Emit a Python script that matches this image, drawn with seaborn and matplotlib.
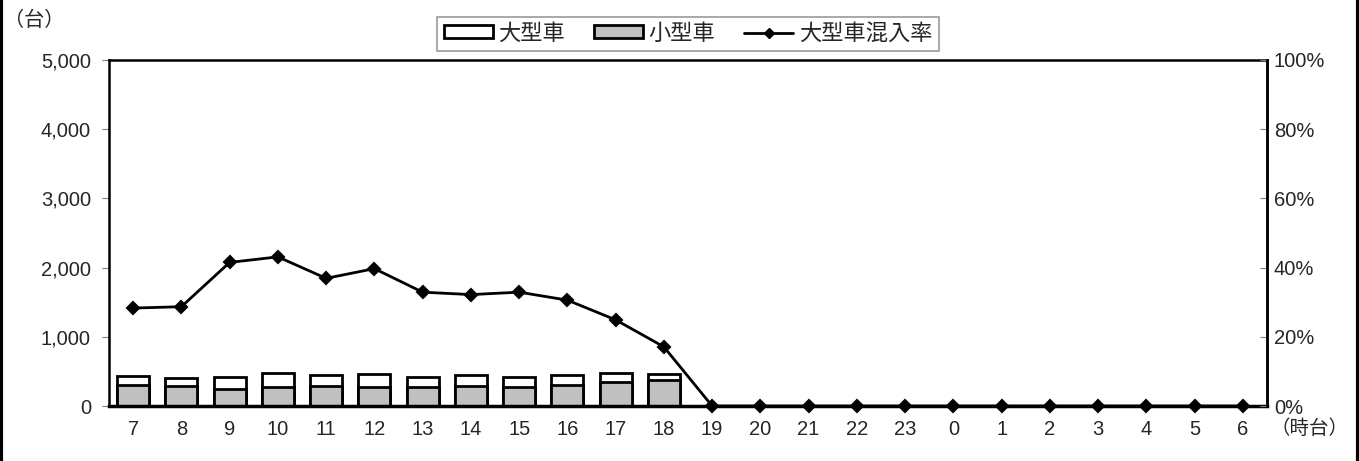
import numpy as np
import pandas as pd
import matplotlib
matplotlib.use('Agg')
import matplotlib.pyplot as plt
import seaborn as sns
from matplotlib.patches import Patch
from matplotlib.lines import Line2D
from matplotlib.ticker import FuncFormatter

# Data
hours = ['7', '8', '9', '10', '11', '12', '13', '14', '15', '16', '17', '18',
         '19', '20', '21', '22', '23', '0', '1', '2', '3', '4', '5', '6']
small_cars = [299, 285, 241, 270, 285, 270, 275, 295, 275, 309, 352, 371,
              0, 0, 0, 0, 0, 0, 0, 0, 0, 0, 0, 0]
large_cars = [130, 120, 178, 203, 163, 188, 140, 153, 144, 146, 130, 91,
              0, 0, 0, 0, 0, 0, 0, 0, 0, 0, 0, 0]
large_rate = [28.3, 28.7, 41.5, 43.1, 36.9, 39.7, 32.9, 32.2, 32.9, 30.6, 24.9, 17.1,
              0, 0, 0, 0, 0, 0, 0, 0, 0, 0, 0, 0]

df = pd.DataFrame({'hour': hours, 'small': small_cars, 'large': large_cars, 'rate': large_rate})
df['total'] = df['small'] + df['large']

sns.set_style('white')
plt.rcParams['font.family'] = ['Liberation Sans', 'Noto Sans CJK JP']

fig = plt.figure(figsize=(13.59, 4.61), dpi=100)
ax = fig.add_axes([109 / 1359, 1 - 406 / 461, (1267 - 109) / 1359, (406 - 60) / 461])

# stacked bars: total (white) behind, small cars (gray) in front
sns.barplot(data=df, x='hour', y='total', order=hours, color='white', edgecolor='black',
            linewidth=2, width=0.66, ax=ax, saturation=1)
sns.barplot(data=df, x='hour', y='small', order=hours, color='#c0c0c0', edgecolor='black',
            linewidth=2, width=0.66, ax=ax, saturation=1)

ax.set_xlim(-0.5, len(hours) - 0.5)
ax.set_ylim(0, 5000)
ax.set_yticks(np.arange(0, 5001, 1000))
ax.yaxis.set_major_formatter(FuncFormatter(lambda v, p: f'{int(v):,}'))
ax.set_xlabel('')
ax.set_ylabel('')
ax.tick_params(axis='x', length=0, labelsize=14.5, pad=10)
ax.tick_params(axis='y', length=5, direction='out', color='gray', labelsize=14.5, pad=8)
for s in ax.spines.values():
    s.set_color('black')
    s.set_linewidth(1.8)
ax.spines['bottom'].set_linewidth(2.5)

# rate line on secondary axis
ax2 = ax.twinx()
sns.pointplot(data=df, x='hour', y='rate', order=hours, color='black', markers='D',
              markersize=6, linewidth=2, ax=ax2)
ax2.set_xlim(-0.5, len(hours) - 0.5)
ax2.set_ylim(0, 100)
ax2.set_yticks(np.arange(0, 101, 20))
ax2.yaxis.set_major_formatter(FuncFormatter(lambda v, p: f'{int(v)}%'))
ax2.set_ylabel('')
ax2.set_xlabel('')
ax2.tick_params(axis='y', length=5, direction='in', color='gray', labelsize=14.5, pad=5)
for s in ax2.spines.values():
    s.set_visible(False)
ax2.spines['right'].set_visible(True)
ax2.spines['right'].set_linewidth(1.8)
ax2.spines['right'].set_color('black')
for c in ax2.collections:
    c.set_clip_on(False)
for l in ax2.lines:
    l.set_clip_on(False)

# units
fig.text(4 / 1359, 1 - 20 / 461, '（台）', fontsize=14.5, ha='left', va='center')
fig.text(1310 / 1359, 1 - 429 / 461, '（時台）', fontsize=14, ha='center', va='center')

# legend
handles = [Patch(facecolor='white', edgecolor='black', linewidth=2),
           Patch(facecolor='#c0c0c0', edgecolor='black', linewidth=2),
           Line2D([0], [0], color='black', lw=2, marker='D', markersize=5)]
labels = ['大型車', '小型車', '大型車混入率']
leg = fig.legend(handles, labels, loc='upper center', bbox_to_anchor=(688 / 1359, 1 - 17 / 461),
                 ncol=3, fontsize=16, frameon=True, fancybox=False, edgecolor='gray',
                 handlelength=2.2, handleheight=0.5, handletextpad=0.25, columnspacing=1.3,
                 borderpad=0.3, borderaxespad=0)
leg.get_frame().set_linewidth(1.2)

# outer frame (left and right edges)
fig.add_artist(Line2D([0.001, 0.001], [0, 1], color='black', lw=3, transform=fig.transFigure))
fig.add_artist(Line2D([0.999, 0.999], [0, 1], color='black', lw=3, transform=fig.transFigure))

fig.savefig('out.png', dpi=100)
